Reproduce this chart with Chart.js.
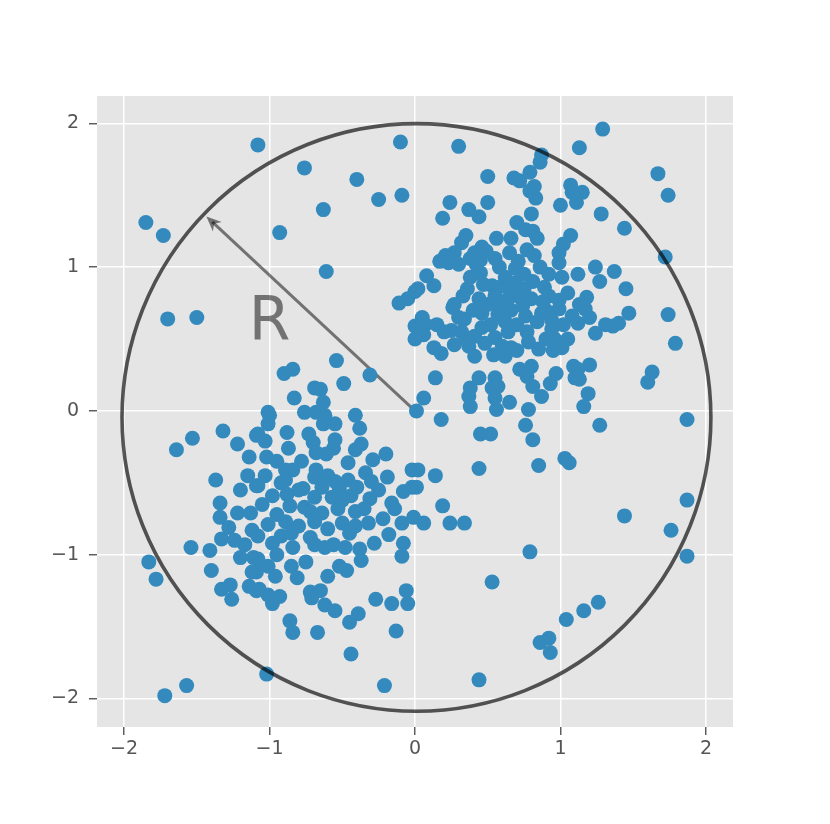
<!DOCTYPE html>
<html>
<head>
<meta charset="utf-8">
<script src="https://cdn.jsdelivr.net/npm/chart.js@4.4.0/dist/chart.umd.min.js"></script>
<style>
  html, body { margin: 0; padding: 0; background: #fff; }
  #wrap { width: 830px; height: 824px; }
</style>
</head>
<body>
<div id="wrap"><canvas id="chart"></canvas></div>
<script>
// points, [x, y]
const scattered = [
  [-1.85,1.31],[-1.73,1.22],[-1.08,1.85],[-0.76,1.69],[-0.40,1.61],[-0.10,1.87],[-0.25,1.47],[-0.09,1.50],
  [-0.63,1.40],[-0.93,1.24],[-0.61,0.97],[-1.70,0.64],[-1.50,0.65],
  [0.30,1.84],[1.29,1.96],[1.13,1.83],[1.67,1.65],[1.74,1.50],[1.28,1.37],[1.44,1.27],[1.72,1.07],[1.74,0.67],
  [1.79,0.47],[1.63,0.27],[1.60,0.20],[1.87,-0.06],[1.44,-0.73],[1.87,-0.62],[1.76,-0.83],[1.87,-1.01],
  [1.26,-1.33],[1.16,-1.39],[1.04,-1.45],[0.86,-1.61],[0.92,-1.58],[0.93,-1.68],[0.53,-1.19],[0.44,-1.87],
  [0.79,-0.98],[1.03,-0.33],[1.06,-0.36],[0.85,-0.38],
  [-1.83,-1.05],[-1.78,-1.17],[-1.72,-1.98],[-1.57,-1.91],[-1.02,-1.83],[-0.21,-1.91],[-0.44,-1.69],
  [-0.84,-1.54],[-0.67,-1.54],[-0.13,-1.53],[-1.64,-0.27],[-1.53,-0.19],[-1.54,-0.95]
];

const clusterUpper = [
  [0.87,1.78],[0.86,1.73],[0.50,1.63],[0.68,1.62],[0.72,1.60],[0.79,1.66],[0.82,1.56],[0.79,1.53],[0.83,1.48],
  [1.07,1.57],[1.08,1.52],[1.15,1.52],[1.11,1.45],[1.00,1.43],[0.24,1.45],[0.50,1.45],[0.37,1.40],[0.44,1.35],
  [0.19,1.34],[0.80,1.37],[0.70,1.31],[0.76,1.26],[0.81,1.25],[0.84,1.20],[1.07,1.22],[1.02,1.16],[0.99,1.10],
  [0.99,1.03],[0.35,1.22],[0.32,1.17],[0.46,1.14],[0.49,1.11],[0.41,1.10],[0.55,1.06],[0.65,1.10],[0.77,1.12],
  [0.82,1.08],[0.21,1.08],[0.27,1.10],[0.17,1.04],[0.23,1.03],[0.30,1.02],[0.45,1.05],[0.71,1.04],[0.69,0.99],
  [0.45,0.96],[0.08,0.94],[0.13,0.87],[0.02,0.85],[1.01,0.93],[1.05,0.82],[0.53,0.87],[0.60,0.87],[0.69,0.89],
  [0.81,0.90],[0.89,0.86],[0.33,0.80],[0.44,0.78],[0.55,0.80],[0.71,0.80],[0.80,0.78],[0.92,0.80],[0.27,0.74],
  [0.99,0.77],[1.12,0.95],[1.24,1.00],[1.37,0.97],[1.27,0.90],[1.45,0.85],[1.18,0.79],[1.13,0.74],
  [-0.11,0.75],[-0.05,0.78],[0.00,0.83],
  [0.26,0.72],[0.34,0.64],[0.46,0.68],[0.57,0.67],[0.66,0.70],[0.76,0.66],[0.87,0.68],[0.99,0.71],[1.08,0.66],
  [0.05,0.65],[0.07,0.60],[0.00,0.59],[0.06,0.53],[0.00,0.50],[0.25,0.56],[0.32,0.55],[0.41,0.52],[0.55,0.51],
  [0.64,0.55],[0.77,0.55],[0.94,0.57],[0.96,0.50],[1.05,0.50],[0.13,0.44],[0.18,0.40],[0.37,0.45],[0.41,0.38],
  [0.54,0.39],[0.62,0.38],[0.66,0.44],[0.70,0.42],[0.85,0.43],[0.95,0.42],[1.01,0.44],[0.14,0.23],[0.44,0.23],
  [0.55,0.23],[0.38,0.16],[0.53,0.16],[0.57,0.17],[0.37,0.10],[0.38,0.03],[0.55,0.09],[0.56,0.01],[0.65,0.06],
  [0.72,0.29],[0.80,0.31],[0.77,0.24],[0.81,0.17],[0.87,0.10],[0.93,0.19],[0.97,0.26],[1.09,0.31],[1.10,0.23],
  [0.78,0.01],[0.76,-0.10],[0.81,-0.20],[1.47,0.68],[1.40,0.61],[1.36,0.59],[1.31,0.60],[1.24,0.54],[1.20,0.65],
  [1.12,0.61],[1.17,0.71],[1.20,0.32],[1.12,0.29],[1.13,0.22],[1.19,0.12],[1.16,0.03],[1.27,-0.10],[0.06,0.09],
  [0.01,0.00],[0.18,-0.06],[0.45,-0.16],[0.52,-0.16],[0.44,-0.40],
  [0.38,0.93],[0.47,0.88],[0.36,0.85],[0.62,0.93],[0.75,0.95],[0.58,1.00],[0.64,0.78],[0.50,0.74],[0.40,0.70],
  [0.62,0.62],[0.70,0.60],[0.84,0.62],[0.90,0.70],[0.52,0.60],[0.30,0.65],[0.46,0.58],[0.74,0.73],[0.88,0.76],
  [0.58,0.72],[0.35,0.50],[0.48,0.47],[0.60,0.45],[0.78,0.48],[0.90,0.50],[0.27,0.46],[0.20,0.55],[0.15,0.60],
  [0.94,0.63],[1.02,0.60],[0.66,1.20],[0.56,1.20],[0.42,1.02],[0.38,1.06],[0.86,1.00],[0.92,0.95],[0.75,0.85],
  [0.66,0.83]
];

const clusterLower = [
  [-1.32,-0.14],[-1.22,-0.23],[-1.14,-0.32],[-1.09,-0.17],[-1.37,-0.48],[-1.09,-0.52],[-1.34,-0.64],[-1.34,-0.74],
  [-1.22,-0.71],[-1.13,-0.71],
  [-0.54,0.35],[-0.31,0.25],[-0.90,0.26],[-0.84,0.29],[-0.49,0.19],[-0.69,0.16],[-0.65,0.15],[-0.83,0.09],
  [-0.63,0.06],[-1.01,-0.01],[-1.00,-0.03],[-0.76,-0.01],[-0.68,-0.01],[-0.62,-0.03],[-0.41,-0.03],[-1.01,-0.09],
  [-0.55,-0.09],[-0.63,-0.09],[-0.88,-0.15],[-0.73,-0.16],[-1.08,-0.16],[-1.03,-0.21],[-0.70,-0.22],[-0.37,-0.23],
  [-0.41,-0.27],[-0.87,-0.26],[-0.56,-0.26],[-0.68,-0.29],[-0.61,-0.30],[-1.02,-0.32],[-0.46,-0.36],[-0.29,-0.34],
  [-0.68,-0.41],[-0.89,-0.41],[-0.84,-0.41],[-0.02,-0.41],[-0.34,-0.43],[-1.03,-0.45],[-0.19,-0.46],[-0.89,-0.48],
  [-0.69,-0.46],[-0.55,-0.49],[-0.46,-0.48],[-0.30,-0.49],[-1.08,-0.52],[-0.77,-0.54],[-0.64,-0.53],[-0.52,-0.54],
  [-0.40,-0.53],[-0.08,-0.56],[-0.02,-0.53],[-0.98,-0.59],[-0.88,-0.58],[-0.69,-0.60],[-0.57,-0.60],[-0.44,-0.59],
  [-0.31,-0.61],[-1.05,-0.65],[-0.86,-0.66],[-0.76,-0.67],[-0.53,-0.68],[-0.16,-0.64],[-0.14,-0.68],[-0.41,-0.70],
  [-0.64,-0.71],
  [-1.01,-0.79],[-0.89,-0.77],[-0.80,-0.80],[-0.69,-0.77],[-0.60,-0.82],[-0.50,-0.78],[-0.41,-0.80],[-0.32,-0.78],
  [-0.22,-0.75],[-0.09,-0.78],[-0.01,-0.74],[-1.08,-0.87],[-0.98,-0.92],[-0.92,-0.87],[-0.84,-0.95],[-0.72,-0.88],
  [-0.69,-0.93],[-0.56,-0.93],[-0.48,-0.95],[-0.38,-0.96],[-0.18,-0.86],[-0.08,-0.92],[-0.09,-1.01],[-0.37,-1.04],
  [-1.08,-1.03],[-1.01,-1.08],[-0.85,-1.08],[-0.52,-1.08],[-0.47,-1.11],[-1.09,-1.12],[-0.96,-1.15],[-0.81,-1.16],
  [-1.07,-1.24],[-1.01,-1.28],[-0.93,-1.29],[-0.72,-1.26],[-0.65,-1.25],[-0.71,-1.30],[-0.98,-1.34],[-0.62,-1.35],
  [-0.55,-1.39],[-0.39,-1.41],[-0.45,-1.47],[-0.27,-1.31],[-0.16,-1.34],[-0.06,-1.25],[-0.05,-1.34],[-0.86,-1.46],
  [-1.41,-0.97],[-1.40,-1.11],[-1.33,-0.89],[-1.28,-0.81],[-1.24,-0.90],[-1.17,-0.93],[-1.20,-1.02],[-1.12,-0.83],
  [-1.11,-1.02],[-1.12,-1.12],[-1.27,-1.21],[-1.33,-1.24],[-1.26,-1.31],[-1.14,-1.22],[-1.09,-1.25],
  [0.02,-0.41],[0.14,-0.45],[0.01,-0.53],[0.19,-0.66],[0.06,-0.78],[0.24,-0.78],[0.34,-0.78],
  [-0.78,-0.35],[-0.95,-0.35],[-0.60,-0.45],[-0.50,-0.62],[-0.35,-0.68],[-0.25,-0.55],[-0.72,-0.70],[-0.95,-0.72],
  [-0.85,-0.85],[-0.62,-0.95],[-0.45,-0.85],[-0.28,-0.92],[-0.55,-0.20],[-0.80,-0.55],[-0.92,-0.50],[-0.38,-0.12],
  [-0.20,-0.30],[-0.95,-1.00],[-0.75,-1.05],[-0.60,-1.15],[-1.15,-0.45],[-1.20,-0.55]
];

const tickValues = [-2, -1, 0, 1, 2];
const xRange = [-2.186, 2.186];
const yRange = [-2.198, 2.19];

// circle and radius arrow
const circleCenter = [0.01, -0.045];
const circleRadius = [2.024, 2.043];
const arrowEnd = [-1.434, 1.352];
const labelText = 'R';
const labelPos = [-1.0, 0.6];

const allPoints = [...scattered, ...clusterUpper, ...clusterLower].map(p => ({ x: p[0], y: p[1] }));

const fmt = v => (v < 0 ? '\u2212' + Math.abs(v) : String(v));

const decorations = {
  id: 'decorations',
  beforeDatasetsDraw(chart) {
    const { ctx, scales: { x, y } } = chart;
    const x0 = x.getPixelForValue(0), y0 = y.getPixelForValue(0);
    const x1 = x.getPixelForValue(arrowEnd[0]), y1 = y.getPixelForValue(arrowEnd[1]);
    const ang = Math.atan2(y1 - y0, x1 - x0);
    const headLen = 15, headW = 6.5;
    ctx.save();
    ctx.strokeStyle = 'rgba(0,0,0,0.5)';
    ctx.fillStyle = 'rgba(0,0,0,0.5)';
    ctx.lineWidth = 3;
    ctx.beginPath();
    ctx.moveTo(x0, y0);
    ctx.lineTo(x1 - Math.cos(ang) * 8, y1 - Math.sin(ang) * 8);
    ctx.stroke();
    // notched arrow head
    ctx.beginPath();
    ctx.moveTo(x1, y1);
    const bx = x1 - Math.cos(ang) * headLen, by = y1 - Math.sin(ang) * headLen;
    const nx = -Math.sin(ang), ny = Math.cos(ang);
    ctx.lineTo(bx + nx * headW, by + ny * headW);
    ctx.lineTo(x1 - Math.cos(ang) * headLen * 0.7, y1 - Math.sin(ang) * headLen * 0.7);
    ctx.lineTo(bx - nx * headW, by - ny * headW);
    ctx.closePath();
    ctx.fill();
    // label
    ctx.fillStyle = 'rgba(0,0,0,0.5)';
    ctx.font = '60px "DejaVu Sans"';
    ctx.textAlign = 'center';
    ctx.textBaseline = 'middle';
    ctx.fillText(labelText, x.getPixelForValue(labelPos[0]), y.getPixelForValue(labelPos[1]));
    ctx.restore();
  },
  afterDatasetsDraw(chart) {
    const { ctx, scales: { x, y } } = chart;
    const cx = x.getPixelForValue(circleCenter[0]);
    const cy = y.getPixelForValue(circleCenter[1]);
    const rx = x.getPixelForValue(circleCenter[0] + circleRadius[0]) - cx;
    const ry = cy - y.getPixelForValue(circleCenter[1] + circleRadius[1]);
    ctx.save();
    ctx.strokeStyle = 'rgba(0,0,0,0.65)';
    ctx.lineWidth = 3.6;
    ctx.beginPath();
    ctx.ellipse(cx, cy, rx, ry, 0, 0, Math.PI * 2);
    ctx.stroke();
    ctx.restore();
  }
};

const plotBg = {
  id: 'plotBg',
  beforeDraw(chart) {
    const { ctx, chartArea: a } = chart;
    ctx.save();
    ctx.fillStyle = '#E5E5E5';
    ctx.fillRect(a.left, a.top, a.right - a.left, a.bottom - a.top);
    ctx.restore();
  }
};

const axisOpts = (range, isX) => ({
  type: 'linear',
  min: range[0],
  max: range[1],
  afterBuildTicks: axis => { axis.ticks = tickValues.map(v => ({ value: v })); },
  afterFit: scale => { if (isX) scale.height = 97; else scale.width = 97; },
  border: { display: false },
  grid: {
    color: '#FFFFFF',
    lineWidth: 1.5,
    tickColor: '#555555',
    tickLength: 8,
    tickWidth: 1.4
  },
  ticks: {
    color: '#555555',
    font: { family: '"DejaVu Sans"', size: 19 },
    padding: isX ? 3 : 10,
    callback: v => fmt(v)
  }
});

new Chart(document.getElementById('chart').getContext('2d'), {
  type: 'scatter',
  data: {
    datasets: [{
      data: allPoints,
      backgroundColor: '#348ABD',
      borderWidth: 0,
      pointRadius: 7.5,
      pointHoverRadius: 7.5
    }]
  },
  options: {
    responsive: true,
    maintainAspectRatio: false,
    animation: false,
    events: [],
    layout: { padding: { left: 0, top: 96, right: 97, bottom: 0 } },
    plugins: { legend: { display: false }, tooltip: { enabled: false } },
    scales: {
      x: axisOpts(xRange, true),
      y: axisOpts(yRange, false)
    }
  },
  plugins: [plotBg, decorations]
});
</script>
</body>
</html>
